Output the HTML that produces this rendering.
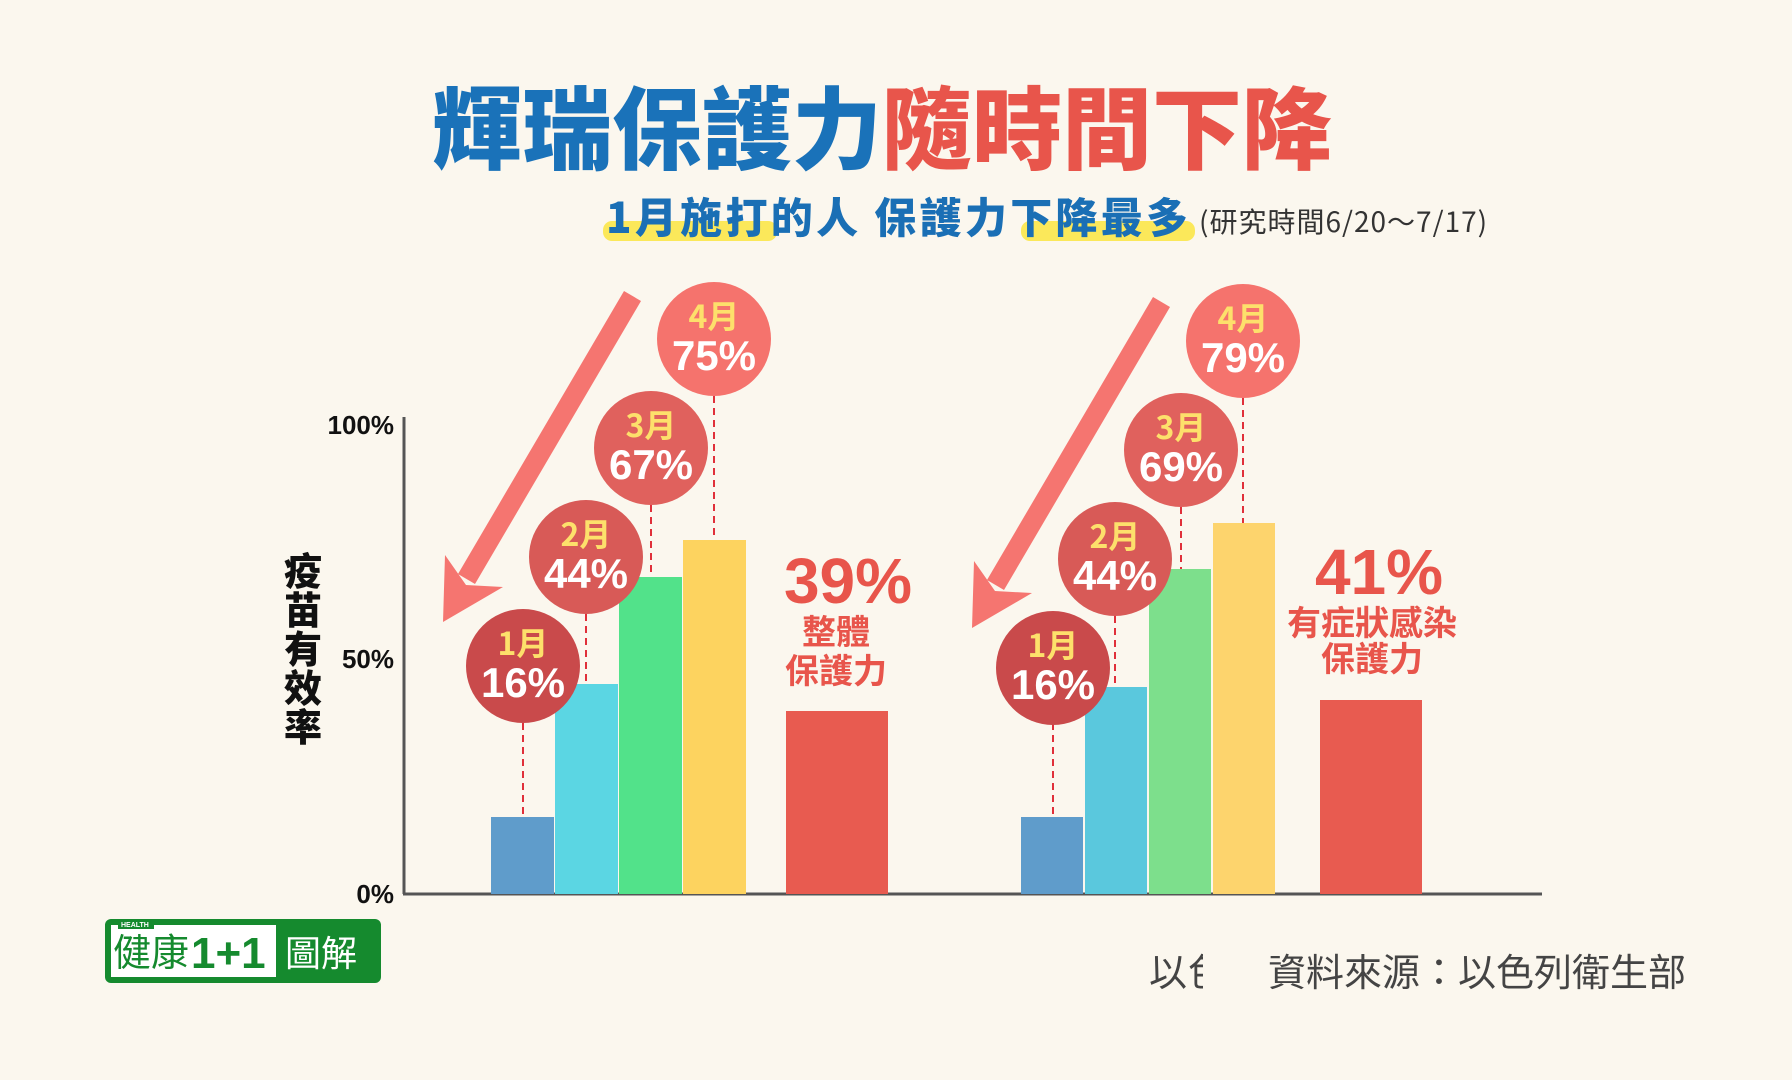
<!DOCTYPE html>
<html><head><meta charset="utf-8"><style>
html,body{margin:0;padding:0;background:#fbf7ee;}
svg{display:block;}
text{font-family:"Liberation Sans","Noto Sans CJK TC",sans-serif;}
.cjk{font-family:"Noto Sans CJK TC","Liberation Sans",sans-serif;}
</style></head><body>
<svg width="1792" height="1080" viewBox="0 0 1792 1080" xmlns="http://www.w3.org/2000/svg">
<rect width="1792" height="1080" fill="#fbf7ee"/>
<text class="cjk" x="432" y="162" font-size="90" font-weight="900" fill="#1a72b9">輝瑞保護力<tspan fill="#e8554b">隨時間下降</tspan></text>
<rect x="603" y="221" width="174" height="20" rx="9" fill="#fbe85a"/>
<rect x="1021" y="221" width="174" height="20" rx="9" fill="#fbe85a"/>
<text class="cjk" x="606" y="233" font-size="42" font-weight="900" fill="#1a6fb5" letter-spacing="3.3">1月施打的人 保護力下降最多</text>
<text class="cjk" x="1199" y="232" font-size="28" font-weight="400" fill="#333" letter-spacing="1">(研究時間6/20～7/17)</text>

<line x1="404" y1="417" x2="404" y2="894" stroke="#555" stroke-width="3"/>
<line x1="403" y1="894" x2="1542" y2="894" stroke="#555" stroke-width="3"/>
<text x="394" y="434" font-size="26" font-weight="700" text-anchor="end" fill="#111">100%</text>
<text x="394" y="668" font-size="26" font-weight="700" text-anchor="end" fill="#111">50%</text>
<text x="394" y="903" font-size="26" font-weight="700" text-anchor="end" fill="#111">0%</text>
<g font-size="38" font-weight="900" fill="#111" text-anchor="middle">
<text x="303" y="585" class="cjk">疫</text>
<text x="303" y="624" class="cjk">苗</text>
<text x="303" y="663" class="cjk">有</text>
<text x="303" y="702" class="cjk">效</text>
<text x="303" y="741" class="cjk">率</text>
</g>

<rect x="491" y="817" width="63" height="77" fill="#5f9ccb"/>
<rect x="555" y="684" width="63" height="210" fill="#5bd6e3"/>
<rect x="619" y="577" width="63" height="317" fill="#52e28a"/>
<rect x="683" y="540" width="63" height="354" fill="#fdd35f"/>
<rect x="786" y="711" width="102" height="183" fill="#e85b50"/>
<rect x="1021" y="817" width="62" height="77" fill="#5f9ccb"/>
<rect x="1085" y="687" width="62" height="207" fill="#5ac8dd"/>
<rect x="1149" y="569" width="62" height="325" fill="#7ddf8c"/>
<rect x="1213" y="523" width="62" height="371" fill="#fdd46d"/>
<rect x="1320" y="700" width="102" height="194" fill="#e85b50"/>

<g stroke="#e0303a" stroke-width="2" stroke-dasharray="7,5">
<line x1="523" y1="723" x2="523" y2="817"/>
<line x1="586" y1="614" x2="586" y2="684"/>
<line x1="651" y1="505" x2="651" y2="577"/>
<line x1="714" y1="396" x2="714" y2="540"/>
<line x1="1053" y1="723" x2="1053" y2="817"/>
<line x1="1115" y1="616" x2="1115" y2="687"/>
<line x1="1181" y1="507" x2="1181" y2="569"/>
<line x1="1243" y1="398" x2="1243" y2="523"/>
</g>

<g fill="#f57570">
<polygon points="624,291 641,301 475,584 458,574"/>
<polygon points="443,622 445,555 466,585 503,587"/>
<polygon points="1153,297 1170,307 1004,590 987,580"/>
<polygon points="972,628 974,561 995,591 1032,593"/>
</g>

<g text-anchor="middle" font-weight="700">
<circle cx="523" cy="666" r="57" fill="#c94a4b"/>
<text x="523" y="655" font-size="32" fill="#fde06b" class="cjk">1月</text>
<text x="523" y="697" font-size="42" fill="#fff">16%</text>
<circle cx="586" cy="557" r="57" fill="#d85a57"/>
<text x="586" y="546" font-size="32" fill="#fde06b" class="cjk">2月</text>
<text x="586" y="588" font-size="42" fill="#fff">44%</text>
<circle cx="651" cy="448" r="57" fill="#e0615d"/>
<text x="651" y="437" font-size="32" fill="#fde06b" class="cjk">3月</text>
<text x="651" y="479" font-size="42" fill="#fff">67%</text>
<circle cx="714" cy="339" r="57" fill="#f5736d"/>
<text x="714" y="328" font-size="32" fill="#fde06b" class="cjk">4月</text>
<text x="714" y="370" font-size="42" fill="#fff">75%</text>

<circle cx="1053" cy="668" r="57" fill="#c94a4b"/>
<text x="1053" y="657" font-size="32" fill="#fde06b" class="cjk">1月</text>
<text x="1053" y="699" font-size="42" fill="#fff">16%</text>
<circle cx="1115" cy="559" r="57" fill="#d85a57"/>
<text x="1115" y="548" font-size="32" fill="#fde06b" class="cjk">2月</text>
<text x="1115" y="590" font-size="42" fill="#fff">44%</text>
<circle cx="1181" cy="450" r="57" fill="#e0615d"/>
<text x="1181" y="439" font-size="32" fill="#fde06b" class="cjk">3月</text>
<text x="1181" y="481" font-size="42" fill="#fff">69%</text>
<circle cx="1243" cy="341" r="57" fill="#f5736d"/>
<text x="1243" y="330" font-size="32" fill="#fde06b" class="cjk">4月</text>
<text x="1243" y="372" font-size="42" fill="#fff">79%</text>
</g>

<g text-anchor="middle" fill="#e8554b" font-weight="700">
<text x="848" y="603" font-size="64">39%</text>
<text x="836" y="644" font-size="34" class="cjk">整體</text>
<text x="836" y="683" font-size="34" class="cjk">保護力</text>
<text x="1379" y="594" font-size="64">41%</text>
<text x="1372" y="635" font-size="34" class="cjk">有症狀感染</text>
<text x="1372" y="671" font-size="34" class="cjk">保護力</text>
</g>

<rect x="105" y="919" width="276" height="64" rx="6" fill="#158a2e"/>
<rect x="111" y="925" width="165" height="52" fill="#fff"/>
<rect x="118" y="921" width="36" height="8" fill="#158a2e"/>
<text x="121" y="927" font-size="7" font-weight="700" fill="#fff">HEALTH</text>
<text x="113" y="966" font-size="38" fill="#158a2e" class="cjk">健康</text>
<text x="191" y="968" font-size="44" font-weight="900" fill="#158a2e">1+1</text>
<text x="285" y="966" font-size="36" fill="#fff" class="cjk">圖解</text>

<text x="1149" y="986" font-size="38" fill="#444" class="cjk">以</text>
<clipPath id="c"><rect x="1188" y="940" width="15" height="60"/></clipPath>
<text x="1188" y="986" font-size="38" fill="#444" class="cjk" clip-path="url(#c)">色</text>
<text x="1268" y="986" font-size="38" fill="#444" class="cjk">資料來源：以色列衛生部</text>
</svg>
</body></html>
